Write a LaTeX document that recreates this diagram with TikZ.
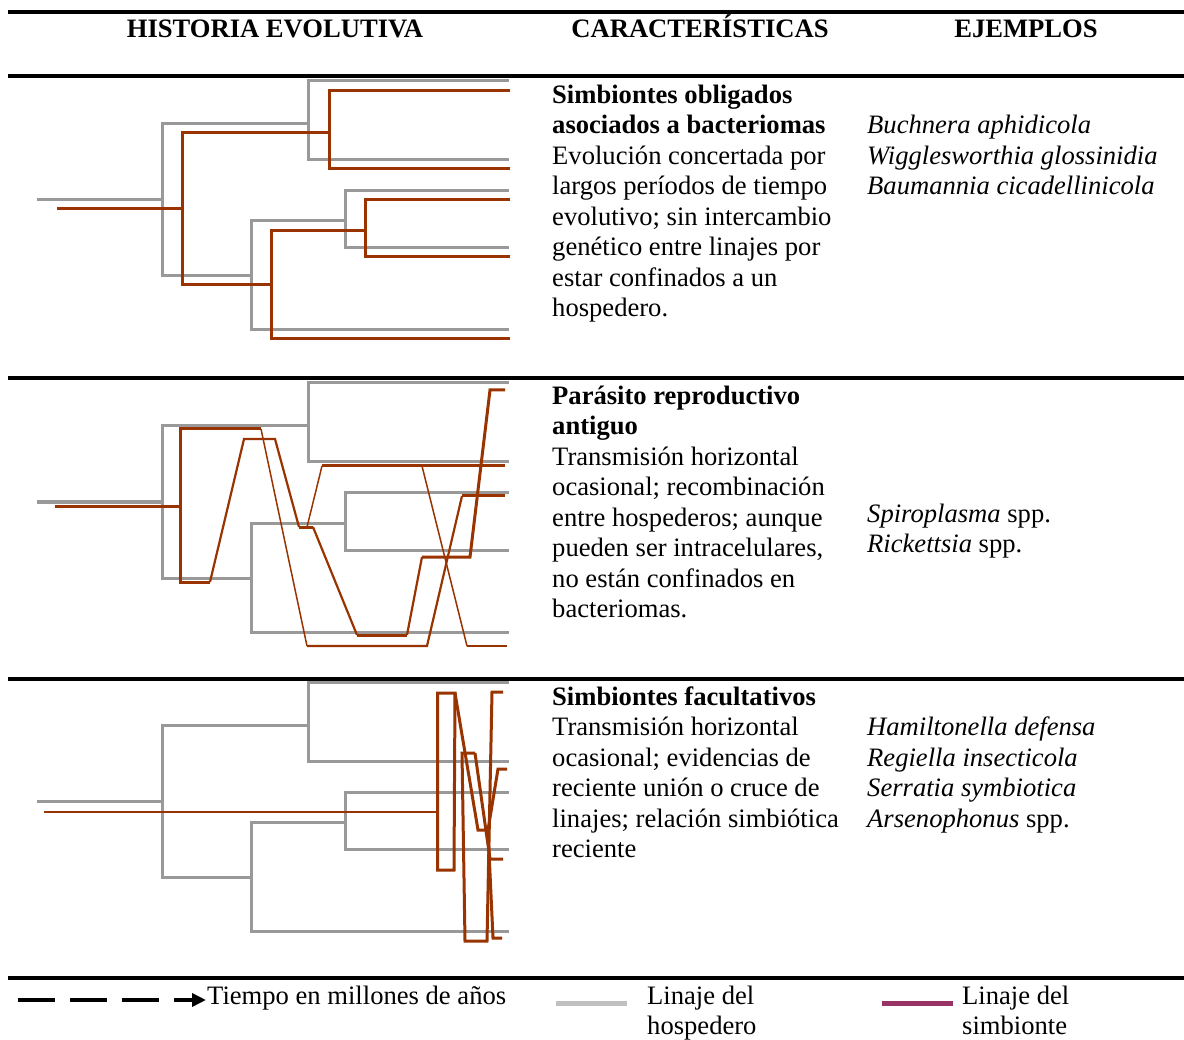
\documentclass[tikz,border=0pt]{standalone}
\usepackage{fontspec}
\setmainfont{Liberation Serif}
\usepackage{tikz}
\usetikzlibrary{arrows.meta,positioning}
\definecolor{hostgray}{RGB}{153,153,153}
\definecolor{symbrown}{RGB}{153,51,0}
\definecolor{keygray}{RGB}{192,192,192}
\definecolor{keypurple}{RGB}{153,51,102}
\tikzset{host/.style={hostgray,line width=3pt}}
\tikzset{symb/.style={symbrown,line width=3pt}}
\tikzset{symbmid/.style={symbrown,line width=2.2pt}}
\tikzset{symbthin/.style={symbrown,line width=1.5pt}}
\tikzset{hrule/.style={black,line width=3.5pt}}
\tikzset{txt/.style={inner sep=0pt,anchor=base west,align=left,font=\fontsize{26.6}{30.5}\selectfont}}
\tikzset{block/.style={txt,anchor=north west}}

\begin{document}
\begin{tikzpicture}[x=1pt,y=-1pt]
  \useasboundingbox (0,0) rectangle (1184,1040);

  % rules and headings
  \draw[hrule] (8,12) -- (1184,12);
  \draw[hrule] (8,76) -- (1184,76);
  \draw[hrule] (8,378) -- (1184,378);
  \draw[hrule] (8,679) -- (1184,679);
  \draw[hrule] (8,978) -- (1184,978);
  \node[txt,anchor=base](Hhist) at (275,38){\textbf{HISTORIA EVOLUTIVA}};
  \node[txt,anchor=base](Hcar) at (700,38){\textbf{CARACTERÍSTICAS}};
  \node[txt,anchor=base](Hej) at (1026,38){\textbf{EJEMPLOS}};

  % host trees, same in the three rows
  \foreach \dy in {0,302,601}{
    \begin{scope}[shift={(0,\dy)}]
      \draw[host] (37,200) -- (162,200);
      \draw[host] (308,124) -| (162,276) -- (251,276);
      \draw[host] (509,81) -| (308,160) -- (509,160);
      \draw[host] (509,191) -| (345,248) -- (509,248);
      \draw[host] (345,221) -| (251,330) -- (509,330);
    \end{scope}
  }

  % symbionts, row 1
  \draw[symb] (57,209) -- (182,209);
  \draw[symb] (329,133) -| (182,285) -- (271,285);
  \draw[symb] (510,91) -| (329,169) -- (510,169);
  \draw[symb] (510,200) -| (365,257) -- (510,257);
  \draw[symb] (365,231) -| (271,339) -- (510,339);

  % symbionts, row 2
  \draw[symb] (55,506) -- (180,506);
  \draw[symb] (261,429) -- (180,429) -- (180,582) -- (210,582);
  \draw[symbthin] (261,429) -- (307,646);
  \draw[symbmid] (307,646) -- (427,646) -- (462,496);
  \draw[symb] (462,496) -- (505,496);
  \draw[symbmid] (210,582) -- (244,439) -- (275,439) -- (299,527);
  \draw[symb] (299,527) -- (313,527);
  \draw[symbmid] (313,527) -- (357,635);
  \draw[symb] (357,635) -- (407,635);
  \draw[symbmid] (407,635) -- (422,557);
  \draw[symb] (422,557) -- (470,557) -- (490,390) -- (505,390);
  \draw[symbthin] (307,527) -- (322,466);
  \draw[symb] (322,466) -- (505,466);
  \draw[symbthin] (422,466) -- (467,646);
  \draw[symbmid] (467,646) -- (507,646);

  % symbionts, row 3
  \draw[symbmid] (44,812) -- (437.5,812);
  \draw[symb] (455,693) -- (437.5,693) -- (437.5,870) -- (454,870) -- cycle;
  \draw[symb] (455,693) -- (478,830) -- (488,830);
  \draw[symb] (475,753) -- (462,753) -- (465,941) -- (487,941) -- (492,692) -- (503,692);
  \draw[symb] (475,753) -- (490,859) -- (503,859);
  \draw[symb] (488,830) -- (498,769) -- (507,769);
  \draw[symb] (488,830) -- (493,938) -- (502,938);

  % texts
  \node[block](C1) at (552,81.6){\strut\textbf{Simbiontes obligados}\\\textbf{asociados a bacteriomas}\\Evolución concertada por\\largos períodos de tiempo\\evolutivo; sin intercambio\\genético entre linajes por\\estar confinados a un\\hospedero.};
  \node[block](E1) at (867,112.1){\strut\textit{Buchnera aphidicola}\\\textit{Wigglesworthia glossinidia}\\\textit{Baumannia cicadellinicola}};
  \node[block](C2) at (552,382.6){\strut\textbf{Parásito reproductivo}\\\textbf{antiguo}\\Transmisión horizontal\\ocasional; recombinación\\entre hospederos; aunque\\pueden ser intracelulares,\\no están confinados en\\bacteriomas.};
  \node[block](E2) at (867,500.6){\strut\textit{Spiroplasma} spp.\\\textit{Rickettsia} spp.};
  \node[block](C3) at (552,683.6){\strut\textbf{Simbiontes facultativos}\\Transmisión horizontal\\ocasional; evidencias de\\reciente unión o cruce de\\linajes; relación simbiótica\\reciente};
  \node[block](E3) at (867,714.1){\strut\textit{Hamiltonella defensa}\\\textit{Regiella insecticola}\\\textit{Serratia symbiotica}\\\textit{Arsenophonus} spp.};

  % legend
  \coordinate(T0) at (18,1000);
  \coordinate(T1) at (206,1000);
  \draw[black,line width=4pt,dash pattern=on 37pt off 15pt,-{Triangle[length=14pt,width=13pt]}] (T0) -- (T1);
  \node[txt](Ltiempo) at (207,1004){Tiempo en millones de años};
  \draw[keygray,line width=5pt] (556,1003) -- (627,1003);
  \node[block](Lhost) at (647,982.6){\strut Linaje del\\hospedero};
  \draw[keypurple,line width=5pt] (882,1003) -- (953,1003);
  \node[block](Lsymb) at (962,982.6){\strut Linaje del\\simbionte};
\end{tikzpicture}
\end{document}
